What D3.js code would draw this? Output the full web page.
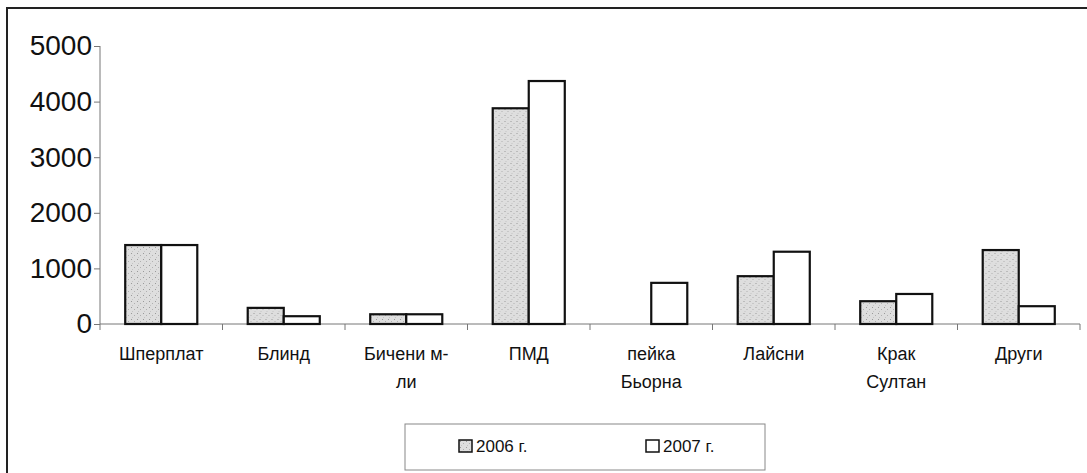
<!DOCTYPE html>
<html>
<head>
<meta charset="utf-8">
<script src="https://cdn.jsdelivr.net/npm/d3@7"></script>
<style>
  body { margin: 0; background: #fff; }
  svg { display: block; font-family: Arial, "Liberation Sans", sans-serif; }
</style>
</head>
<body>
<svg width="1087" height="473"></svg>
<script>
var categories = [["Шперплат"], ["Блинд"], ["Бичени м-", "ли"], ["ПМД"], ["пейка", "Бьорна"], ["Лайсни"], ["Крак", "Султан"], ["Други"]];
var series = ["2006 г.", "2007 г."];
var values2006 = [1420, 290, 175, 3880, 0, 860, 410, 1330];
var values2007 = [1420, 140, 175, 4370, 740, 1300, 540, 320];
var yTicks = [0, 1000, 2000, 3000, 4000, 5000];

var svg = d3.select("svg");

// stippled grey fill for 2006
var pat = svg.append("defs").append("pattern")
  .attr("id", "stipple")
  .attr("width", 6).attr("height", 6)
  .attr("patternUnits", "userSpaceOnUse");
pat.append("rect").attr("width", 6).attr("height", 6).attr("fill", "#dedede");
pat.append("rect").attr("x", 1).attr("y", 1).attr("width", 1).attr("height", 1).attr("fill", "#9a9a9a");
pat.append("rect").attr("x", 4).attr("y", 3).attr("width", 1).attr("height", 1).attr("fill", "#b0b0b0");
pat.append("rect").attr("x", 2).attr("y", 5).attr("width", 1).attr("height", 1).attr("fill", "#c4c4c4");

// outer frame
svg.append("rect")
  .attr("x", 7).attr("y", 8)
  .attr("width", 1100).attr("height", 500)
  .attr("fill", "none")
  .attr("stroke", "#222")
  .attr("stroke-width", 2);

var plotLeft = 100, plotRight = 1080, plotTop = 46, plotBottom = 324;

var x0 = d3.scaleBand()
  .domain(d3.range(categories.length))
  .range([plotLeft, plotRight]);

var x1 = d3.scaleBand()
  .domain(series)
  .range([0, x0.bandwidth()])
  .paddingOuter(0.7);

var y = d3.scaleLinear().domain([0, 5000]).range([plotBottom, plotTop]);

// y axis
var yAxis = svg.append("g")
  .attr("transform", "translate(" + plotLeft + ",0)")
  .call(d3.axisLeft(y).tickValues(yTicks).tickFormat(d3.format("d")).tickSize(6).tickPadding(2));
yAxis.selectAll("line, path").attr("stroke", "#777");
yAxis.select(".domain").attr("d", "M0," + plotTop + "V" + plotBottom);
yAxis.selectAll("text")
  .attr("font-size", "28px")
  .attr("font-family", "Arial, 'Liberation Sans', sans-serif")
  .attr("fill", "#111");

// x axis: line with ticks at category boundaries
var xAxis = svg.append("g").attr("class", "xaxis");
xAxis.append("line")
  .attr("x1", plotLeft).attr("x2", plotRight)
  .attr("y1", y(0)).attr("y2", y(0))
  .attr("stroke", "#777");
xAxis.selectAll(".tk")
  .data(d3.range(categories.length + 1))
  .enter().append("line")
  .attr("x1", function (d) { return plotLeft + d * x0.step(); })
  .attr("x2", function (d) { return plotLeft + d * x0.step(); })
  .attr("y1", y(0)).attr("y2", y(0) + 6)
  .attr("stroke", "#777");

// bars
var groups = svg.selectAll(".grp")
  .data(categories)
  .enter().append("g")
  .attr("transform", function (d, i) { return "translate(" + x0(i) + ",0)"; });

groups.selectAll("rect")
  .data(function (d, i) {
    return [{ s: series[0], v: values2006[i] }, { s: series[1], v: values2007[i] }];
  })
  .enter().filter(function (d) { return d.v > 0; })
  .append("rect")
  .attr("x", function (d) { return x1(d.s); })
  .attr("y", function (d) { return y(d.v); })
  .attr("width", x1.bandwidth())
  .attr("height", function (d) { return y(0) - y(d.v); })
  .attr("fill", function (d) { return d.s === series[0] ? "url(#stipple)" : "#fff"; })
  .attr("stroke", "#111")
  .attr("stroke-width", 2.2);

// category labels
groups.append("text")
  .attr("x", x0.bandwidth() / 2)
  .attr("y", 360)
  .attr("text-anchor", "middle")
  .attr("font-size", "18px")
  .attr("fill", "#111")
  .selectAll("tspan")
  .data(function (d) { return d; })
  .enter().append("tspan")
  .attr("x", x0.bandwidth() / 2)
  .attr("dy", function (d, i) { return i === 0 ? 0 : 28; })
  .text(function (d) { return d; });

// legend
var legend = svg.append("g");
legend.append("rect")
  .attr("x", 405).attr("y", 424)
  .attr("width", 360).attr("height", 46)
  .attr("fill", "#fff")
  .attr("stroke", "#888");

var legX = [459, 646];
var items = legend.selectAll(".item")
  .data(series)
  .enter().append("g")
  .attr("transform", function (d, i) { return "translate(" + legX[i] + ",440)"; });
items.append("rect")
  .attr("width", 13).attr("height", 12)
  .attr("fill", function (d, i) { return i === 0 ? "url(#stipple)" : "#fff"; })
  .attr("stroke", "#111")
  .attr("stroke-width", 1.5);
items.append("text")
  .attr("x", 17).attr("y", 12)
  .attr("font-size", "17px")
  .attr("fill", "#111")
  .text(function (d) { return d; });
</script>
</body>
</html>
